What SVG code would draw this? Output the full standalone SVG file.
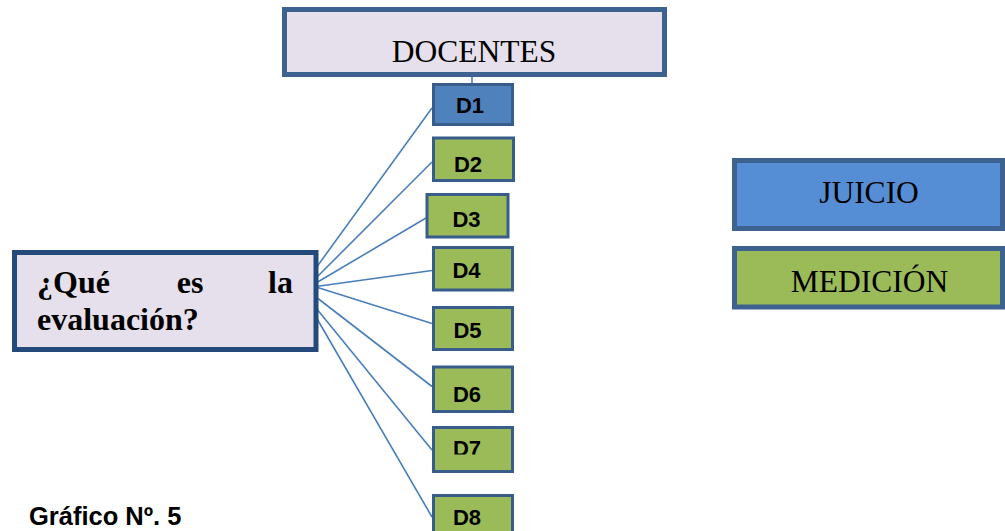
<svg xmlns="http://www.w3.org/2000/svg" width="1005" height="531" viewBox="0 0 1005 531">
<style>
.big{fill:#E6E0EC;stroke:#3D6290;stroke-width:5}
.q{fill:#E6E0EC;stroke:#244A7C;stroke-width:5}
.d1{fill:#4F81BD;stroke:#385D8A;stroke-width:3}
.dg{fill:#9BBB59;stroke:#385D8A;stroke-width:3}
.jb{fill:#558ED5;stroke:#3D6290;stroke-width:5}
.mg{fill:#9BBB59;stroke:#3D6290;stroke-width:5}
.tr{font-family:"Liberation Serif",serif;font-size:31.5px;fill:#000}
.tb{font-family:"Liberation Serif",serif;font-size:32px;font-weight:bold;fill:#000}
.dl{font-family:"Liberation Sans",Arial,sans-serif;font-size:22px;font-weight:bold;fill:#000;text-anchor:middle}
.cn{stroke:#4A7EBB;stroke-width:1.6;fill:none}
</style>
<defs>
<clipPath id="c7"><rect x="432" y="426" width="82" height="28.5"/></clipPath>
</defs>
<g id="connectors">
<line class="cn" x1="472" y1="76" x2="472" y2="84"/>
<line class="cn" x1="316" y1="268" x2="432" y2="108"/>
<line class="cn" x1="316" y1="278" x2="432" y2="162"/>
<line class="cn" x1="316" y1="283" x2="426" y2="218"/>
<line class="cn" x1="316" y1="286.5" x2="432" y2="270.5"/>
<line class="cn" x1="316" y1="287" x2="432" y2="323.5"/>
<line class="cn" x1="316" y1="297" x2="432" y2="386.5"/>
<line class="cn" x1="316" y1="308" x2="432" y2="450"/>
<line class="cn" x1="316" y1="317" x2="432" y2="517"/>
</g>
<g id="docentes">
<rect class="big" x="284.5" y="9.5" width="380" height="65"/>
<text class="tr" x="474" y="61.5" text-anchor="middle">DOCENTES</text>
</g>
<g id="pregunta">
<rect class="q" x="14.5" y="252.5" width="301.5" height="97"/>
<text class="tb" x="37" y="293">¿Qué</text>
<text class="tb" x="190" y="293" text-anchor="middle">es</text>
<text class="tb" x="293" y="293" text-anchor="end">la</text>
<text class="tb" x="37" y="330">evaluación?</text>
</g>
<g id="d1">
<rect class="d1" x="433.5" y="84.5" width="79" height="40"/>
<text class="dl" x="470" y="113">D1</text>
</g>
<g id="d2">
<rect class="dg" x="433.5" y="138" width="80" height="42.5"/>
<text class="dl" x="468" y="172">D2</text>
</g>
<g id="d3">
<rect class="dg" x="427" y="194.5" width="81" height="42.5"/>
<text class="dl" x="466.5" y="226.5">D3</text>
</g>
<g id="d4">
<rect class="dg" x="433.5" y="247.5" width="79" height="42.5"/>
<text class="dl" x="466.5" y="277.5">D4</text>
</g>
<g id="d5">
<rect class="dg" x="433.5" y="307.5" width="79" height="42"/>
<text class="dl" x="467.5" y="338">D5</text>
</g>
<g id="d6">
<rect class="dg" x="433.5" y="367" width="79" height="44.5"/>
<text class="dl" x="467" y="401.5">D6</text>
</g>
<g id="d7">
<rect class="dg" x="433.5" y="427.5" width="79" height="44"/>
<text class="dl" x="467" y="456" clip-path="url(#c7)">D7</text>
</g>
<g id="d8">
<rect class="dg" x="433.5" y="495.5" width="79" height="44"/>
<text class="dl" x="467" y="525">D8</text>
</g>
<g id="juicio">
<rect class="jb" x="734.5" y="160.5" width="268" height="68"/>
<text class="tr" x="869" y="203" text-anchor="middle">JUICIO</text>
</g>
<g id="medicion">
<rect class="mg" x="734.5" y="248.5" width="268" height="58.5"/>
<text class="tr" x="869.5" y="291.5" text-anchor="middle">MEDICIÓN</text>
</g>
<text x="29" y="525" font-family="'Liberation Sans',Arial,sans-serif" font-size="25.5" font-weight="bold" fill="#000">Gráfico Nº. 5</text>
</svg>
